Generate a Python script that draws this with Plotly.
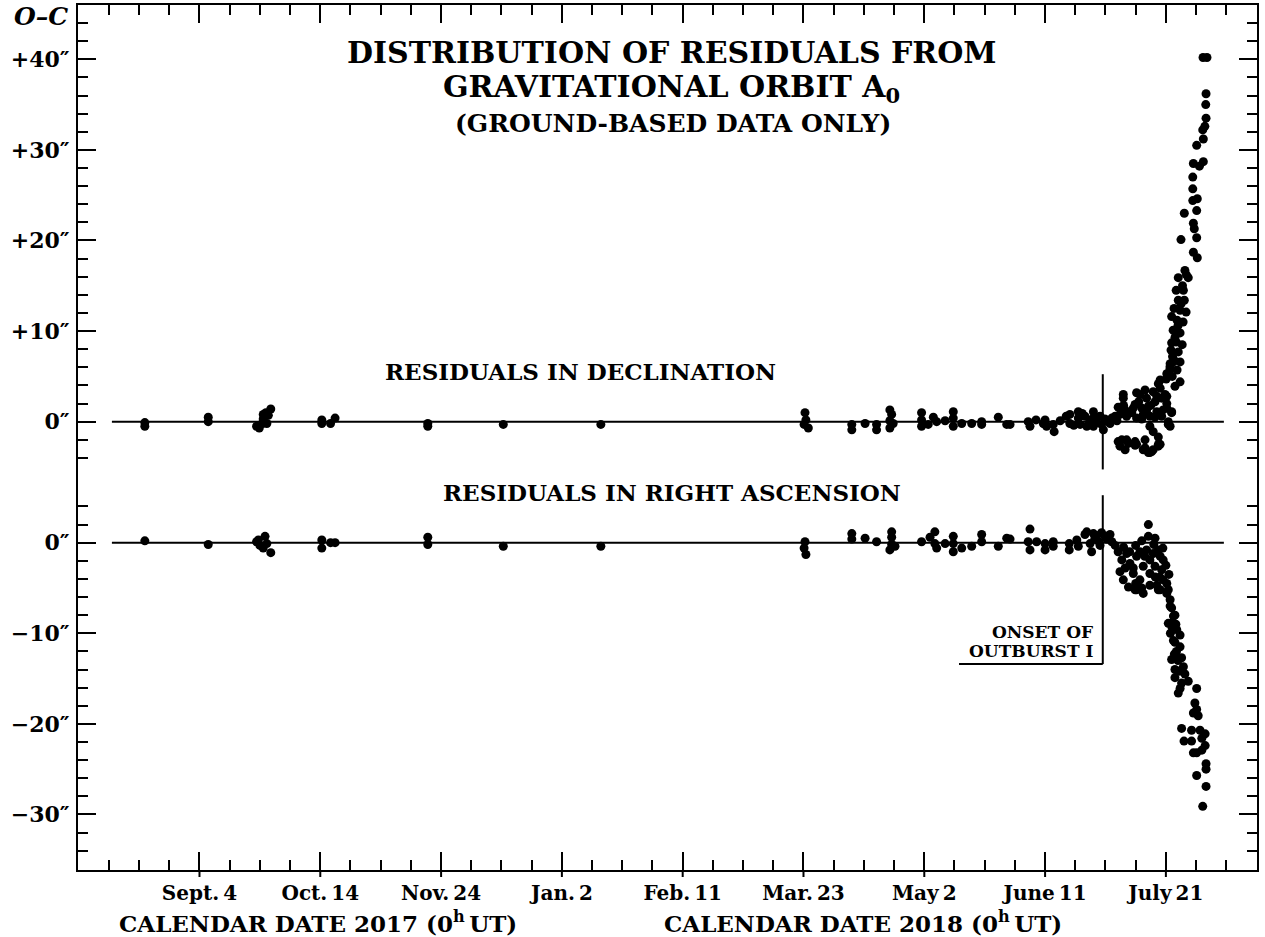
import plotly.graph_objects as go

# ---------------- data (x = days after 2017 Sept. 4.0 UT) ----------------
dec_days = [-18.1, -18.1, 2.9, 2.9, 18.9, 19.8, 20.9, 21.1, 21.1, 22.0, 22.3, 22.8, 23.6,
            40.5, 40.5, 43.4, 44.9, 75.6, 75.6, 100.6, 132.9,
            200.5, 200.8, 200.2, 201.6, 216.0, 216.0, 220.4, 224.2, 224.2,
            228.6, 229.2, 228.6, 229.7, 228.6, 239.1, 239.1, 239.1, 241.3, 243.0, 244.1,
            246.9, 249.6, 249.6, 249.6, 252.4, 255.7, 259.0, 259.0, 264.5, 267.3, 268.4,
            274.4, 275.0, 277.0, 279.4, 280.5,
            280.0, 280.0, 282.7, 283.0, 288.2, 288.2, 291.0, 291.0, 291.6, 293.2, 293.8,
            296.0, 296.0, 296.0, 298.2, 298.7, 299.3, 300.9, 302.1, 303.2, 304.8, 305.9,
            306.5, 307.0, 308.7, 309.8, 310.3, 311.4, 312.0, 312.5, 313.6, 314.2, 314.7,
            314.7, 315.8, 315.8, 316.4, 317.0, 318.1, 318.6, 319.1, 320.3, 320.8, 321.9, 321.4,
            305.9, 310.3, 313.1, 317.5, 318.1, 320.3, 320.3, 321.4, 322.5, 321.9, 320.8,
            304.2, 304.8, 305.4, 306.5, 307.0, 307.6, 309.8, 309.8, 310.3, 313.1, 313.1,
            312.5, 314.2, 314.7, 315.3, 315.8, 317.5, 317.5, 317.5, 318.1,
            309.2, 311.0, 312.0, 313.6, 315.0, 316.4, 317.0, 318.6, 319.7, 320.3, 306.0,
            307.6, 304.2, 285.0, 287.0, 289.5, 292.3, 294.8, 297.0, 299.8, 301.5, 303.8,
            326.3, 324.1, 327.4, 323.4, 325.8, 324.1, 326.1, 322.7, 324.7, 326.7, 323.7,
            325.7, 322.4, 324.7, 323.4, 325.4, 321.7, 324.1, 322.7, 324.7, 321.4, 323.7,
            322.1, 320.1, 324.7, 323.0, 321.9, 321.9, 321.4,
            323.0, 324.0, 325.0, 322.2, 321.0, 325.5, 326.8,
            332.3, 333.6, 333.3, 333.2, 333.3, 332.9, 332.2, 332.4, 330.2, 332.4, 329.1,
            331.1, 328.9, 328.9, 328.9, 330.4, 330.2, 326.1, 329.1, 329.4, 330.2, 325.0,
            329.1, 330.4]
dec_vals = [-0.1, -0.5, 0.5, 0.0, -0.5, -0.7, -0.2, 0.8, 0.3, 1.0, -0.2, 0.7, 1.4,
            0.2, -0.2, -0.2, 0.4, -0.5, -0.2, -0.3, -0.3,
            1.0, 0.2, -0.3, -0.7, -0.3, -0.9, -0.2, -0.3, -0.9,
            1.3, 0.8, 0.1, -0.2, -0.7, 1.0, 0.2, -0.5, -0.3, 0.5, 0.0,
            0.1, 1.1, 0.4, -0.5, -0.2, -0.2, 0.0, -0.3, 0.5, -0.3, -0.3,
            0.0, -0.5, 0.2, -0.2, -0.5,
            0.2, -0.3, -0.3, -1.1, 0.8, -0.2, 1.1, 0.4, -0.3, 0.6, -0.5,
            1.1, 0.4, -0.5, 0.6, -0.3, -0.9, 0.0, 0.4, 0.6, 0.8, 2.6,
            1.3, 0.6, 1.0, 1.9, 0.4, 3.0, 1.5, 0.8, 2.6, 1.7, 0.6,
            -0.5, 3.3, -1.1, 2.2, 1.1, 3.7, 2.6, 1.3, 2.8, 0.0, 1.1, -0.5,
            3.0, 3.2, 3.5, 4.2, 4.6, 5.3, 2.0, 6.1, 6.6, 1.0, -0.3,
            -2.2, -2.7, -2.0, -3.1, -2.0, -2.4, -2.2, -2.6, -2.5, -2.0, -2.9,
            -3.1, -3.4, -3.4, -3.3, -3.1, -1.7, -2.5, -2.7, -2.5,
            1.5, 2.2, 0.3, 1.2, 1.8, 0.5, 2.8, 0.6, 3.0, 1.5, 1.8,
            1.0, 1.6, 0.1, 0.6, -0.4, 0.9, 0.2, -0.1, 0.3, -0.2, 0.1,
            16.7, 15.9, 15.9, 14.5, 14.5, 13.4, 13.4, 12.5, 12.3, 12.1, 11.2,
            11.0, 10.1, 9.8, 8.8, 8.5, 7.9, 7.7, 6.8, 6.6, 5.9, 5.7,
            5.0, 4.7, 4.4, 3.9, 11.6, 8.7, 6.4,
            9.3, 10.6, 13.0, 7.2, 5.4, 15.0, 16.2,
            40.2, 40.2, 36.2, 35.0, 33.5, 32.6, 32.2, 31.2, 30.5, 28.7, 28.5,
            28.2, 27.0, 25.7, 24.4, 24.6, 23.3, 23.0, 21.9, 21.3, 20.3, 20.1,
            18.7, 18.1]

ra_days = [-18.1, 2.9, 18.9, 19.5, 20.0, 21.7, 21.1, 22.3, 23.6,
           40.5, 40.5, 43.4, 44.9, 75.6, 75.6, 100.6, 132.9,
           200.5, 200.2, 200.8, 216.0, 216.0, 220.4, 224.2, 229.2, 229.2, 229.2, 230.3, 228.6,
           239.1, 241.9, 243.5, 243.5, 244.1, 246.9, 249.6, 249.6, 249.6, 252.4, 255.7,
           259.0, 259.0, 264.5, 267.3, 268.4, 275.0, 274.4, 275.0, 277.2, 280.0, 280.0,
           282.7, 282.7, 288.0, 288.0, 290.5, 291.0, 293.2, 293.8, 294.9, 295.4, 296.0,
           296.5, 298.2, 299.8, 301.5, 302.1, 303.2, 304.2, 305.4, 304.8, 305.9, 307.6,
           309.8, 307.0, 308.1, 309.2, 310.3, 311.4, 312.0, 311.4, 312.5, 313.6, 314.2,
           314.2, 316.4, 314.7, 314.7, 315.8, 316.4, 317.0, 317.5, 318.1, 318.6, 319.1,
           319.1, 320.3, 320.8, 321.4, 321.9, 322.5, 321.9, 323.6, 324.7,
           309.2, 310.3, 312.5, 314.7, 318.1, 320.3, 321.4, 320.8, 323.0, 322.5, 324.7,
           321.9, 325.2, 323.0, 325.8, 323.0, 326.3, 325.2, 327.4, 324.1, 324.7, 330.2,
           329.6, 330.2, 329.1, 330.7, 325.2, 328.5, 331.3, 333.0, 331.9, 326.0, 328.5,
           333.0, 331.9, 329.1, 330.2, 333.3, 333.3, 330.2, 333.3, 332.2,
           306.0, 308.0, 310.0, 312.0, 313.0, 316.0, 317.5, 319.0, 320.0, 321.0, 318.0,
           316.5, 306.5, 310.0, 297.0, 298.7, 300.5, 297.5,
           322.0, 323.0, 323.5, 324.0, 322.8, 324.3, 321.5, 323.3]
ra_vals = [0.2, -0.2, 0.1, 0.3, -0.3, 0.7, -0.6, -0.1, -1.1,
           0.3, -0.6, 0.0, 0.0, 0.6, -0.2, -0.4, -0.4,
           0.1, -0.6, -1.3, 1.0, 0.4, 0.5, 0.1, 1.2, 0.6, -0.2, -0.4, -0.8,
           0.1, 0.6, 1.2, -0.1, -0.6, -0.1, 0.7, -0.1, -1.0, -0.6, -0.4,
           0.9, 0.1, -0.4, 0.5, 0.4, 1.5, 0.1, -0.8, 0.1, -0.1, -0.8,
           0.1, -0.4, -0.1, -0.8, 0.3, -0.4, 0.9, 1.2, -0.1, -1.0, 1.0,
           0.5, -0.3, 0.7, 0.9, 0.1, -0.3, -1.0, -1.9, -3.2, -4.1, -4.9,
           -5.2, -1.2, -2.3, -3.4, -1.5, -1.0, -5.0, -4.1, -2.6, -0.8, 2.0,
           0.7, 0.5, -1.9, -3.4, -1.2, -2.6, -4.7, -5.2, -1.5, -3.0, -1.9,
           -4.1, -4.5, -5.2, -6.3, -7.2, -8.1, -8.9, -9.6, -10.2,
           -2.8, -5.2, -5.6, -4.7, -5.2, -5.6, -7.0, -8.9, -8.0, -10.8, -11.5,
           -12.9, -12.7, -14.0, -13.7, -14.9, -14.5, -15.5, -15.3, -16.6, -16.1, -16.1,
           -17.7, -18.4, -18.8, -19.1, -20.5, -20.7, -20.7, -21.1, -21.6, -21.9, -21.9,
           -22.4, -22.9, -23.2, -23.2, -24.4, -25.0, -25.7, -26.9, -29.1,
           -0.5, -1.0, -0.3, 0.2, -1.5, -0.2, -0.8, -0.6, -2.5, -3.5, -3.8,
           -3.8, -2.8, -4.5, 0.8, 1.1, 0.4, 0.2,
           -9.3, -11.0, -12.0, -13.0, -12.3, -14.2, -10.0, -9.0]

x_tickvals = [0, 40, 80, 120, 160, 200, 240, 280, 320]
x_ticktext = ["Sept.\u20094", "Oct.\u200914", "Nov.\u200924", "Jan.\u20092", "Feb.\u200911",
              "Mar.\u200923", "May\u20092", "June\u200911", "July\u200921"]
dec_tickvals = [0, 10, 20, 30, 40]
dec_ticktext = ["0\u2033", "+10\u2033", "+20\u2033", "+30\u2033", "+40\u2033"]
ra_tickvals = [0, -10, -20, -30]
ra_ticktext = ["0\u2033", "\u221210\u2033", "\u221220\u2033", "\u221230\u2033"]
onset_day = 299.1

# ---------------- layout geometry ----------------
W, H = 1265, 937
ML, MR, MT, MB = 78, 8, 5, 67
PW, PH = W - ML - MR, H - MT - MB
FONT = "DejaVu Serif"


def px(x):
    return (x - ML) / PW


def py(y):
    return (H - MB - y) / PH


fig = go.Figure()
mk = dict(color="black", size=9, line=dict(width=0))
fig.add_trace(go.Scatter(x=dec_days, y=dec_vals, mode="markers", marker=mk,
                         yaxis="y", showlegend=False, hoverinfo="skip"))
fig.add_trace(go.Scatter(x=ra_days, y=ra_vals, mode="markers", marker=mk,
                         yaxis="y2", showlegend=False, hoverinfo="skip"))

tickfont = dict(family=FONT, size=22, color="black", weight="bold")
dec_minor = [v for v in range(-4, 45, 2) if v % 10 != 0]
ra_minor = [v for v in range(-34, 5, 2) if v % 10 != 0]

common_y = dict(showline=True, linewidth=2, linecolor="black", mirror="ticks",
                ticks="inside", ticklen=18, tickwidth=2, tickcolor="black",
                showgrid=False, zeroline=False, tickmode="array", tickfont=tickfont,
                ticklabelstandoff=2, automargin=False)

fig.update_layout(
    width=W, height=H,
    margin=dict(l=ML, r=MR, t=MT, b=MB),
    paper_bgcolor="white", plot_bgcolor="white",
    xaxis=dict(range=[-40.23, 350.17], showline=True, linewidth=2, linecolor="black",
               mirror="ticks", ticks="inside", ticklen=18, tickwidth=2, tickcolor="black",
               tickmode="array", tickvals=x_tickvals, ticktext=x_ticktext,
               tickfont=dict(family=FONT, size=20, color="black", weight="bold"),
               ticklabelstandoff=4, automargin=False,
               minor=dict(ticks="inside", ticklen=10, tickwidth=2, tickcolor="black",
                          dtick=10, tick0=0, showgrid=False),
               showgrid=False, zeroline=False),
    yaxis=dict(range=[-49.48, 45.99], tickvals=dec_tickvals, ticktext=dec_ticktext,
               minor=dict(ticks="inside", ticklen=10, tickwidth=2, tickcolor="black",
                          tickmode="array", tickvals=dec_minor, showgrid=False),
               **common_y),
    yaxis2=dict(range=[-36.13, 59.35], overlaying="y", side="left",
                tickvals=ra_tickvals, ticktext=ra_ticktext,
                minor=dict(ticks="inside", ticklen=10, tickwidth=2, tickcolor="black",
                           tickmode="array", tickvals=ra_minor, showgrid=False),
                **common_y),
)

shapes = []
line = dict(color="black", width=2)
# zero lines
shapes.append(dict(type="line", xref="x", yref="y", x0=-29.0, x1=339.2, y0=0, y1=0, line=line))
shapes.append(dict(type="line", xref="x", yref="y2", x0=-29.0, x1=339.2, y0=0, y1=0, line=line))
# onset of outburst I markers
shapes.append(dict(type="line", xref="x", yref="y", x0=onset_day, x1=onset_day, y0=5.24, y1=-5.27, line=line))
shapes.append(dict(type="line", xref="x", yref="y2", x0=onset_day, x1=onset_day, y0=5.24, y1=-13.4, line=line))
shapes.append(dict(type="line", xref="x", yref="y2", x0=251.5, x1=onset_day, y0=-13.4, y1=-13.4, line=line))
# outward part of the major bottom ticks
for v in x_tickvals:
    shapes.append(dict(type="line", xref="x", yref="paper", x0=v, x1=v, y0=0, y1=-7 / PH, line=line))
fig.update_layout(shapes=shapes)


def ann(text, x, y, size, xanchor="center", italic=False):
    fig.add_annotation(text=text, x=px(x), y=py(y), xref="paper", yref="paper",
                       xanchor=xanchor, yanchor="middle", showarrow=False,
                       font=dict(family=FONT, size=size, color="black", weight="bold",
                                 style="italic" if italic else "normal"))


ann("O\u2013C", 70, 17, 25, xanchor="right", italic=True)
ann("DISTRIBUTION OF RESIDUALS FROM", 672, 53, 30)
ann("GRAVITATIONAL ORBIT A<sub>0</sub>", 672, 88, 30)
ann("(GROUND-BASED DATA ONLY)", 673, 123, 25)
ann("RESIDUALS IN DECLINATION", 580, 372, 23)
ann("RESIDUALS IN RIGHT ASCENSION", 672, 492, 23)
ann("ONSET OF", 1095, 632, 17, xanchor="right")
ann("OUTBURST I", 1095, 651, 17, xanchor="right")
ann("CALENDAR DATE 2017 (0<sup>h</sup>\u2009UT)", 318, 922, 23)
ann("CALENDAR DATE 2018 (0<sup>h</sup>\u2009UT)", 863, 922, 23)

fig.write_html("out.html", config={"displayModeBar": False},
               post_script="document.body.style.margin='0px';")
